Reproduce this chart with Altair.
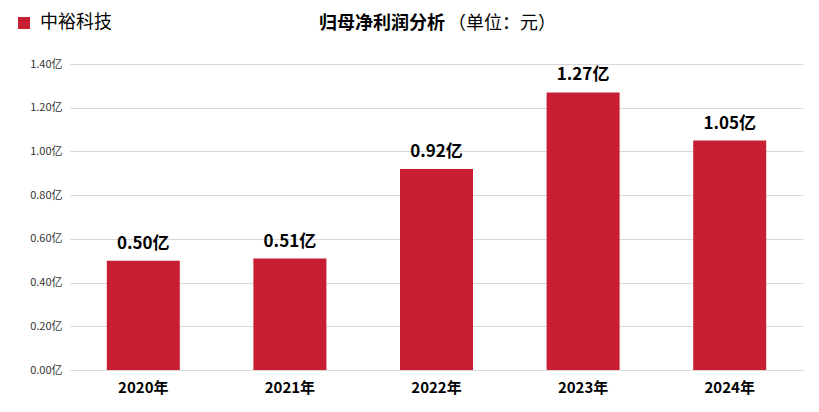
import altair as alt
import pandas as pd

years = ["2020年", "2021年", "2022年", "2023年", "2024年"]
profits = [0.50, 0.51, 0.92, 1.27, 1.05]
company = "中裕科技"
y_ticks = [0.0, 0.2, 0.4, 0.6, 0.8, 1.0, 1.2, 1.4]

df = pd.DataFrame({"year": years, "profit": profits, "company": [company] * len(years)})
df["label"] = [f"{v:.2f}亿" for v in profits]

FONT = "Noto Sans CJK SC"
RED = "#C81E32"
PLOT_H = 306
TOP = 56
Y_MAX = 1.4 * (PLOT_H + TOP) / PLOT_H

base = alt.Chart(df)

bars = base.mark_bar(size=73).encode(
    x=alt.X("year:N", sort=years, title=None,
            axis=alt.Axis(labelAngle=0, labelFontSize=15, labelFontWeight="bold",
                          labelColor="#000", labelPadding=10, ticks=False,
                          domainColor="#d9d9d9", labelFont=FONT)),
    y=alt.Y("profit:Q", title=None,
            scale=alt.Scale(domain=[0, Y_MAX], nice=False),
            axis=alt.Axis(values=y_ticks, labelExpr="format(datum.value, '.2f') + '亿'",
                          labelFontSize=11, labelColor="#333", labelPadding=8,
                          ticks=False, domain=False, gridColor="#d9d9d9",
                          labelFont=FONT)),
    color=alt.Color("company:N", scale=alt.Scale(range=[RED]),
                    legend=alt.Legend(title=None, orient="none", legendX=-55, legendY=6,
                                      symbolType="square", symbolSize=144,
                                      labelFontSize=18, labelFont=FONT, labelColor="#000",
                                      labelOffset=7)),
)

labels = base.mark_text(baseline="bottom", dy=-8, fontSize=17, fontWeight="bold",
                        font=FONT, color="#000").encode(
    x=alt.X("year:N", sort=years),
    y="profit:Q",
    text="label:N",
)

title_bold = alt.Chart(pd.DataFrame({"t": ["归母净利润分析"]})).mark_text(
    align="right", baseline="middle", fontSize=18, fontWeight="bold", font=FONT, color="#000"
).encode(x=alt.value(375), y=alt.value(16), text="t:N")

title_norm = alt.Chart(pd.DataFrame({"t": ["（单位：元）"]})).mark_text(
    align="left", baseline="middle", fontSize=18, font=FONT, color="#000"
).encode(x=alt.value(378), y=alt.value(16), text="t:N")

chart = alt.layer(bars, labels, title_bold, title_norm).properties(
    width=733, height=PLOT_H + TOP,
    autosize=alt.AutoSizeParams(type="none"),
    padding={"left": 62, "top": 0, "right": 8, "bottom": 34},
    background="white",
).configure_view(stroke=None)

chart.save("out.html", embed_options={"renderer": "svg", "actions": False})
